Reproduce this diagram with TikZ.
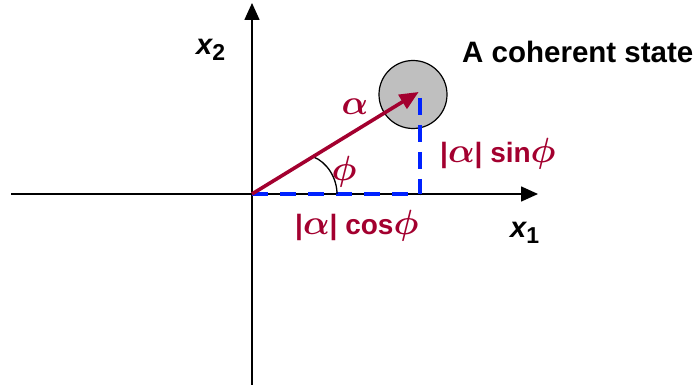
\RequirePackage{fix-cm}
\documentclass[tikz,border=0pt]{standalone}
\usepackage{fontspec}
\setmainfont{Liberation Sans}
\usetikzlibrary{arrows.meta}
\definecolor{vred}{HTML}{A3002F}
\definecolor{dblue}{HTML}{0022FF}
\newcommand{\gk}[1]{{\fontsize{35}{35}\selectfont\boldmath$#1$}}
\tikzset{
  axis/.style={line width=1.6pt, -{Triangle[length=17pt,width=15pt]}},
  vec/.style={vred, line width=3.6pt, -{Triangle[length=19pt,width=16pt]}, shorten >=-2pt},
  dash line/.style={dblue, line width=4pt, dash pattern=on 16pt off 12pt},
  lbl/.style={vred, font=\fontsize{28}{30}\selectfont\bfseries, inner sep=0pt},
  axlbl/.style={font=\fontsize{29}{30}\selectfont\bfseries, inner sep=0pt},
}
\begin{document}
\begin{tikzpicture}[x=1pt,y=-1pt]
\useasboundingbox (0,0) rectangle (694,385);
\coordinate (O) at (252,194);
\coordinate (L) at (11,194);
\coordinate (R) at (538,194);
\coordinate (B) at (252,385);
\coordinate (T) at (252,3);
\coordinate (P) at (417,93);
\coordinate (Px) at (420,194);
\coordinate (Pd) at (420,98);
\coordinate (A1) at (313,156.7);
\coordinate (A2) at (337,194);
% circle
\node[circle, draw=black, line width=1.2pt, fill=black!25, minimum size=68pt, inner sep=0pt] (st) at (413,94.5) {};
% axes
\draw[axis] (L) -- (R);
\draw[axis] (B) -- (T);
% dashed projections
\draw[dash line] (O) -- (Px);
\draw[dash line, dash pattern=on 17pt off 10pt] (Pd) -- (Px);
% angle arc
\draw[black, line width=1.3pt] (A1) .. controls (327,162) and (337,178) .. (A2);
% vector
\draw[vec] (O) -- (P);
% labels
\node[lbl] (alpha) at (355,107) {\gk{\alpha}};
\node[lbl] (phi) at (344,172) {\gk{\phi}};
\node[lbl, anchor=west] (sin) at (440,154) {|\gk{\alpha}| sin\gk{\phi}};
\node[lbl, anchor=west] (cos) at (295,226) {|\gk{\alpha}| cos\gk{\phi}};
\node[font=\fontsize{29.5}{32}\selectfont\bfseries, anchor=west, inner sep=0pt] (title) at (462,52) {A coherent state};
\node[axlbl, anchor=west] (x1) at (510,233) {\itshape x\upshape\raisebox{-6pt}{\fontsize{23}{24}\selectfont 1}};
\node[axlbl, anchor=west] (x2) at (196,50) {\itshape x\upshape\raisebox{-6pt}{\fontsize{23}{24}\selectfont 2}};
\end{tikzpicture}
\end{document}
